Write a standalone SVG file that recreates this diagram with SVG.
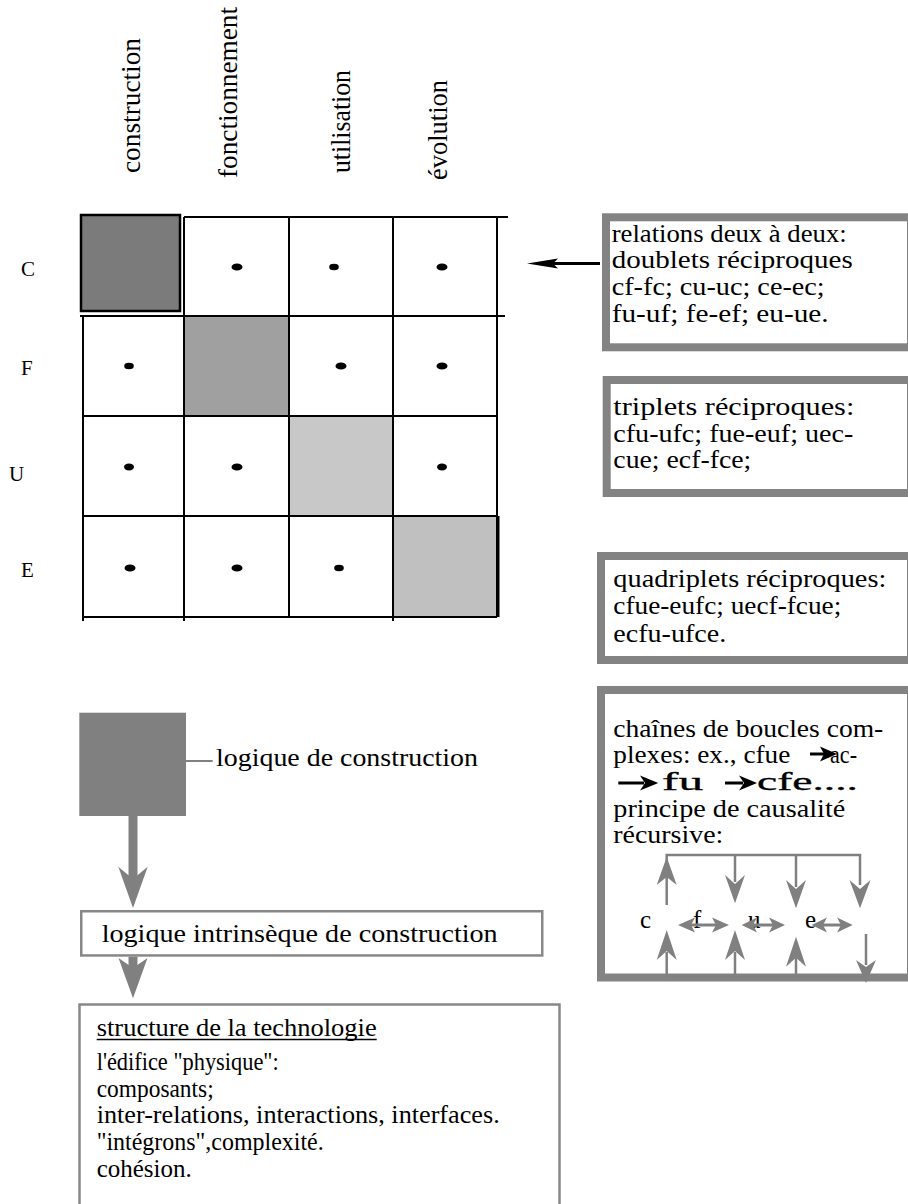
<svg xmlns="http://www.w3.org/2000/svg" width="908" height="1204" viewBox="0 0 908 1204">
<style>
.t{font-family:"Liberation Serif","Times New Roman",serif;font-size:25px;fill:#000}
.h{font-family:"Liberation Serif","Times New Roman",serif;font-size:28px;fill:#000}
.rl{font-family:"Liberation Serif","Times New Roman",serif;font-size:21px;fill:#000}
.big{font-family:"Liberation Serif","Times New Roman",serif;font-size:25px;fill:#000;stroke:#000;stroke-width:0.3}
.box{fill:#fff;stroke:#838383;stroke-width:8}
.tbox{fill:#fff;stroke:#888;stroke-width:2.5}
.grid{stroke:#000;stroke-width:2;fill:none}
.g{stroke:#808080;stroke-width:2.5;fill:none}
.gh{fill:#808080}
.k{stroke:#000;stroke-width:3;fill:none}
.kh{fill:#000}
.dot{fill:#000}
</style>
<rect width="908" height="1204" fill="#fff"/>

<g id="headers">
<text class="h" transform="translate(140,173) rotate(-90)" textLength="135" lengthAdjust="spacingAndGlyphs">construction</text>
<text class="h" transform="translate(237,178) rotate(-90)" textLength="171" lengthAdjust="spacingAndGlyphs">fonctionnement</text>
<text class="h" transform="translate(350,173) rotate(-90)" textLength="103" lengthAdjust="spacingAndGlyphs">utilisation</text>
<text class="h" transform="translate(447,180) rotate(-90)" textLength="100" lengthAdjust="spacingAndGlyphs">évolution</text>
</g>

<g id="row-labels">
<text class="rl" x="21" y="276">C</text>
<text class="rl" x="21" y="375">F</text>
<text class="rl" x="9" y="481">U</text>
<text class="rl" x="21" y="577">E</text>
</g>

<g id="matrix">
<rect x="184" y="316" width="105" height="100" fill="#a0a0a0"/>
<rect x="289" y="416" width="104" height="100" fill="#c8c8c8"/>
<rect x="393" y="516" width="104" height="101" fill="#c0c0c0"/>
<rect x="81" y="215" width="99" height="96" fill="#7b7b7b" stroke="#000" stroke-width="2.5"/>
<g class="grid">
<line x1="184" y1="217" x2="508" y2="217"/>
<line x1="80" y1="316" x2="505" y2="316"/>
<line x1="83" y1="416" x2="497" y2="416"/>
<line x1="83" y1="516" x2="497" y2="516"/>
<line x1="83" y1="617" x2="497" y2="617"/>
<line x1="83" y1="316" x2="83" y2="621"/>
<line x1="184" y1="217" x2="184" y2="621"/>
<line x1="289" y1="217" x2="289" y2="617"/>
<line x1="393" y1="217" x2="393" y2="621"/>
<line x1="497" y1="217" x2="497" y2="617"/>
<line x1="498.5" y1="516" x2="498.5" y2="617" stroke-width="2"/>
</g>
<g class="dot">
<ellipse cx="237" cy="267" rx="5.5" ry="3.6"/>
<ellipse cx="334" cy="267" rx="4.8" ry="3.3"/>
<ellipse cx="442" cy="267" rx="5.5" ry="3.6"/>
<ellipse cx="129" cy="366" rx="4.8" ry="3.3"/>
<ellipse cx="341" cy="366" rx="5.5" ry="3.6"/>
<ellipse cx="442" cy="366" rx="5.5" ry="3.6"/>
<ellipse cx="129" cy="467" rx="5" ry="3.4"/>
<ellipse cx="237" cy="467" rx="5.5" ry="3.6"/>
<ellipse cx="442" cy="467" rx="5" ry="3.4"/>
<ellipse cx="130" cy="568" rx="5.5" ry="3.6"/>
<ellipse cx="237" cy="568" rx="5.5" ry="3.6"/>
<ellipse cx="339" cy="568" rx="4.8" ry="3.3"/>
</g>
</g>

<g id="box-doublets">
<rect class="box" x="606" y="217.3" width="305" height="130"/>
<text class="t" x="611.7" y="241.7" textLength="235" lengthAdjust="spacingAndGlyphs">relations deux à deux:</text>
<text class="t" x="611.7" y="268" textLength="241" lengthAdjust="spacingAndGlyphs">doublets réciproques</text>
<text class="t" x="611.7" y="295" textLength="213" lengthAdjust="spacingAndGlyphs">cf-fc; cu-uc; ce-ec;</text>
<text class="t" x="611.7" y="321.7" textLength="217" lengthAdjust="spacingAndGlyphs">fu-uf; fe-ef; eu-ue.</text>
</g>

<g id="box-triplets">
<rect class="box" x="606.7" y="380" width="304.3" height="113"/>
<text class="t" x="613.3" y="415" textLength="241" lengthAdjust="spacingAndGlyphs">triplets réciproques:</text>
<text class="t" x="613.3" y="441.7" textLength="240" lengthAdjust="spacingAndGlyphs">cfu-ufc; fue-euf; uec-</text>
<text class="t" x="613.3" y="468" textLength="138" lengthAdjust="spacingAndGlyphs">cue; ecf-fce;</text>
</g>

<g id="box-quadriplets">
<rect class="box" x="601" y="556" width="310" height="104"/>
<text class="t" x="613.3" y="586.7" textLength="273" lengthAdjust="spacingAndGlyphs">quadriplets réciproques:</text>
<text class="t" x="613.3" y="614" textLength="228" lengthAdjust="spacingAndGlyphs">cfue-eufc; uecf-fcue;</text>
<text class="t" x="613.3" y="641.7" textLength="113" lengthAdjust="spacingAndGlyphs">ecfu-ufce.</text>
</g>

<g id="box-chaines">
<rect class="box" x="601" y="690" width="310" height="287.5"/>
<text class="t" x="613.3" y="736.7" textLength="270" lengthAdjust="spacingAndGlyphs">chaînes de boucles com-</text>
<text class="t" x="613.3" y="763" textLength="177" lengthAdjust="spacingAndGlyphs">plexes: ex., cfue</text>
<text class="t" x="830" y="763" textLength="27" lengthAdjust="spacingAndGlyphs">ac-</text>
<line class="k" x1="810" y1="754" x2="826" y2="754"/>
<polygon class="kh" points="837,754 820,746.5 824,754 820,761.5"/>
<line class="k" x1="618.3" y1="783" x2="644" y2="783"/>
<polygon class="kh" points="658.3,783 640,775.5 645,783 640,790.5"/>
<text class="big" x="662" y="790" textLength="41" lengthAdjust="spacingAndGlyphs">fu</text>
<line class="k" x1="725" y1="783" x2="743" y2="783"/>
<polygon class="kh" points="757,783 739,775.5 744,783 739,790.5"/>
<text class="big" x="757" y="790" textLength="101" lengthAdjust="spacingAndGlyphs">cfe....</text>
<text class="t" x="613.3" y="816.7" textLength="232" lengthAdjust="spacingAndGlyphs">principe de causalité</text>
<text class="t" x="613.3" y="843" textLength="110" lengthAdjust="spacingAndGlyphs">récursive:</text>
<g id="loop-diagram">
<text class="t" x="640" y="928">c</text>
<text class="t" x="693" y="928">f</text>
<text class="t" x="748" y="928">u</text>
<text class="t" x="805" y="928">e</text>
<g class="g">
<polyline points="666.7,905 666.7,855 860,855 860,885"/>
<line x1="735" y1="855" x2="735" y2="882"/>
<line x1="796" y1="855" x2="796" y2="887"/>
<polyline points="666.7,952 666.7,976.7 866.7,976.7"/>
<line x1="735" y1="976.7" x2="735" y2="952"/>
<line x1="796" y1="976.7" x2="796" y2="958"/>
<line x1="866" y1="934" x2="866" y2="965"/>
<line x1="688" y1="925" x2="719" y2="925" stroke-width="3"/>
<line x1="751" y1="925" x2="775" y2="925" stroke-width="3"/>
<line x1="821" y1="925" x2="843" y2="925" stroke-width="3"/>
</g>
<g class="gh">
<polygon points="666.7,857 656.7,885 666.7,877 676.7,885"/>
<polygon points="735,903.3 725,875 735,884 745,875"/>
<polygon points="796,908.3 786,880 796,889 806,880"/>
<polygon points="860,908.3 849.5,880 860,889 870.5,880"/>
<polygon points="666.7,930 656.7,960 666.7,951 676.7,960"/>
<polygon points="735,930 725,960 735,951 745,960"/>
<polygon points="796,936.7 786,966.7 796,957.7 806,966.7"/>
<polygon points="866,983 856,960 866,967 876,960"/>
<polygon points="678,925 695,917.5 691,925 695,932.5"/>
<polygon points="729,925 712,917.5 716,925 712,932.5"/>
<polygon points="741.7,925 757,917.5 753,925 757,932.5"/>
<polygon points="785,925 769,917.5 773,925 769,932.5"/>
<polygon points="811.7,925 827,917.5 823,925 827,932.5"/>
<polygon points="852.7,925 837,917.5 841,925 837,932.5"/>
</g>
</g>
</g>

<g id="node-logique-construction">
<rect x="79.3" y="712.7" width="106.7" height="103.3" fill="#808080"/>
<text class="t" x="216" y="765.7" textLength="262" lengthAdjust="spacingAndGlyphs">logique de construction</text>
</g>

<g id="node-logique-intrinseque">
<rect class="tbox" x="81.25" y="911.25" width="461" height="44.2"/>
<text class="t" x="101.7" y="941.7" textLength="396" lengthAdjust="spacingAndGlyphs">logique intrinsèque de construction</text>
</g>

<g id="node-structure">
<rect class="tbox" x="79.5" y="1004.5" width="480" height="215"/>
<text class="t" x="96.7" y="1036" textLength="280" lengthAdjust="spacingAndGlyphs">structure de la technologie</text>
<line x1="96.7" y1="1039.5" x2="376.7" y2="1039.5" stroke="#000" stroke-width="1.5"/>
<text class="t" x="96.7" y="1070" textLength="182" lengthAdjust="spacingAndGlyphs">l'édifice "physique":</text>
<text class="t" x="96.7" y="1096.7" textLength="117" lengthAdjust="spacingAndGlyphs">composants;</text>
<text class="t" x="96.7" y="1123.3" textLength="403" lengthAdjust="spacingAndGlyphs">inter-relations, interactions, interfaces.</text>
<text class="t" x="96.7" y="1150" textLength="227" lengthAdjust="spacingAndGlyphs">"intégrons",complexité.</text>
<text class="t" x="96.7" y="1176.7" textLength="95" lengthAdjust="spacingAndGlyphs">cohésion.</text>
</g>

<g id="connectors">
<line class="k" x1="600" y1="263.5" x2="552" y2="263.5"/>
<polygon class="kh" points="527,263.5 558,258.5 553,263.5 558,268.5"/>
<line x1="186" y1="761" x2="212.7" y2="761" stroke="#808080" stroke-width="2"/>
<line x1="133" y1="816" x2="133" y2="882" stroke="#808080" stroke-width="9"/>
<polygon class="gh" points="133,908 118.3,866.7 133,879 147.7,866.7"/>
<line x1="133" y1="956.7" x2="133" y2="970" stroke="#808080" stroke-width="9"/>
<polygon class="gh" points="133,998.3 118.5,958 133,968 147.5,958"/>
</g>
</svg>
